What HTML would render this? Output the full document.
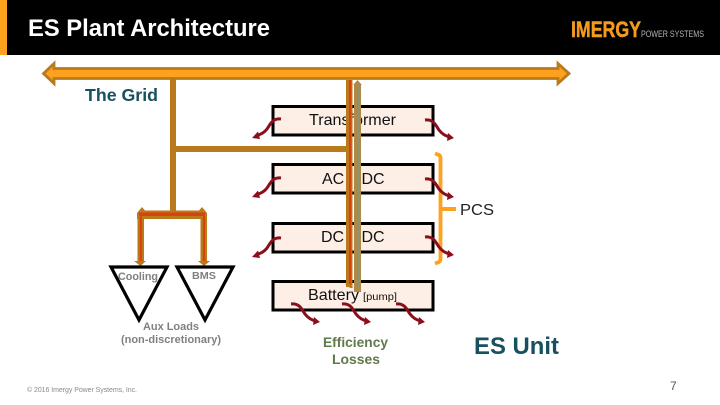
<!DOCTYPE html>
<html><head><meta charset="utf-8"><style>
html,body{margin:0;padding:0;background:#fff;width:720px;height:405px;overflow:hidden}
svg{display:block}
text{font-family:"Liberation Sans",sans-serif}
</style></head><body>
<svg width="720" height="405" viewBox="0 0 720 405" xmlns="http://www.w3.org/2000/svg">
<defs>
<g id="sl">
<path d="M0 0C-9-1-11 6-14 10C-17 14-20 15-25 17" fill="none" stroke="#8b0f1a" stroke-width="3"/>
<path d="M-29 19L-23 12.500L-21 20Z" fill="#8b0f1a"/>
</g>
<g id="sr">
<path d="M0 0C9-1 11 6 14 10C17 14 20 16 25 17" fill="none" stroke="#8b0f1a" stroke-width="3"/>
<path d="M29 18L23 13L22 21Z" fill="#8b0f1a"/>
</g>
</defs>
<rect width="720" height="55" fill="#000"/>
<rect width="7" height="55" fill="#fda11f"/>
<text x="28" y="36" font-size="23.700" font-weight="bold" fill="#fff" textLength="242" lengthAdjust="spacingAndGlyphs">ES Plant Architecture</text>
<text x="571" y="37" font-size="22.300" font-weight="bold" fill="#f49a1d" stroke="#f49a1d" stroke-width="0.500" textLength="70" lengthAdjust="spacingAndGlyphs">IMERGY</text>
<text x="641" y="37" font-size="9.500" fill="#b5b5b5" textLength="63" lengthAdjust="spacingAndGlyphs">POWER SYSTEMS</text>

<rect x="170" y="79" width="6" height="134" fill="#b97a1c"/>
<rect x="174" y="146" width="174" height="6" fill="#b97a1c"/>
<path d="M176 145L172 149L176 153Z" fill="#b97a1c"/>
<path d="M43.500 73.500L54 63.500V68.500H558V63.500L569 73.500L558 83.500V78.500H54V83.500Z" fill="#fda11f" stroke="#b97a1c" stroke-width="2.800"/>
<text x="85" y="101" font-size="17.800" font-weight="bold" fill="#17505f" textLength="73" lengthAdjust="spacingAndGlyphs">The Grid</text>

<g fill="#fdeee6" stroke="#000" stroke-width="3">
<rect x="273" y="106.500" width="160" height="28.500"/>
<rect x="273" y="164.500" width="160" height="28.500"/>
<rect x="273" y="223.500" width="160" height="28.500"/>
<rect x="273" y="281.500" width="160" height="28.500"/>
</g>
<g font-size="16" fill="#111">
<text x="309" y="125" textLength="87" lengthAdjust="spacingAndGlyphs">Transformer</text>
<text x="322" y="184">AC</text>
<text x="361.500" y="184">DC</text>
<text x="321" y="242">DC</text>
<text x="361.500" y="242">DC</text>
<text x="308" y="300" textLength="51" lengthAdjust="spacingAndGlyphs">Battery</text>
<text x="363" y="300" font-size="10.500" textLength="34" lengthAdjust="spacingAndGlyphs">[pump]</text>
</g>

<rect x="346" y="80" width="6.500" height="207" fill="#b97a1c"/>
<rect x="349" y="80" width="2.200" height="205" fill="#d9420f"/>
<path d="M345 284L350 288H352.500V284Z" fill="#b97a1c"/>
<path d="M353 85L357.500 80L362 85H361V292H354V85Z" fill="#b0884a"/>
<rect x="356.800" y="85" width="2" height="203" fill="#8b9468"/>

<rect x="170" y="205" width="6" height="9" fill="#b97a1c"/>
<path d="M137 213L142 207L145 210.500H199L202 207L207 213V219H137Z" fill="#b97a1c"/>
<rect x="139" y="212.500" width="66" height="3.500" fill="#d9420f"/>
<rect x="137.500" y="217" width="6.500" height="46" fill="#b97a1c"/>
<rect x="139.800" y="216" width="2" height="46" fill="#d9420f"/>
<rect x="200.500" y="217" width="6.500" height="46" fill="#b97a1c"/>
<rect x="203" y="216" width="2" height="46" fill="#d9420f"/>
<path d="M134 261H146L140.500 266Z" fill="#b97a1c"/>
<path d="M198 261H210L204 266Z" fill="#b97a1c"/>

<g fill="none" stroke="#000" stroke-width="3.200">
<path d="M111 267H167L139 320Z"/>
<path d="M177 267H233L205 320Z"/>
</g>
<g fill="#808080" font-weight="bold">
<text x="118" y="280" font-size="10.700" textLength="40" lengthAdjust="spacingAndGlyphs">Cooling</text>
<text x="192" y="279" font-size="10" textLength="24" lengthAdjust="spacingAndGlyphs">BMS</text>
<text x="143" y="330" font-size="11" textLength="56" lengthAdjust="spacingAndGlyphs">Aux Loads</text>
<text x="121" y="343" font-size="11" textLength="100" lengthAdjust="spacingAndGlyphs">(non-discretionary)</text>
</g>

<path d="M435 153.500L439 155Q440.500 156 440.500 158V259Q440.500 261 439 262L435 263.500" fill="none" stroke="#fda11f" stroke-width="3.800"/>
<rect x="441" y="207" width="15" height="4" fill="#fda11f"/>
<text x="460" y="215" font-size="16" fill="#222" textLength="34" lengthAdjust="spacingAndGlyphs">PCS</text>

<use href="#sl" x="281" y="119"/>
<use href="#sl" x="281" y="178"/>
<use href="#sl" x="281" y="238"/>
<use href="#sr" x="425" y="120"/>
<use href="#sr" x="425" y="179"/>
<use href="#sr" x="425" y="237"/>
<use href="#sr" x="291" y="304"/>
<use href="#sr" x="342" y="304"/>
<use href="#sr" x="396" y="304"/>

<text x="323" y="347" font-size="13.800" font-weight="bold" fill="#5f7a4a" textLength="65" lengthAdjust="spacingAndGlyphs">Efficiency</text>
<text x="332" y="364" font-size="13.800" font-weight="bold" fill="#5f7a4a" textLength="48" lengthAdjust="spacingAndGlyphs">Losses</text>
<text x="474" y="354" font-size="24" font-weight="bold" fill="#17505f" textLength="85" lengthAdjust="spacingAndGlyphs">ES Unit</text>
<text x="27" y="392" font-size="7" fill="#8a8a8a" textLength="110" lengthAdjust="spacing">© 2016 Imergy Power Systems, Inc.</text>
<text x="670" y="390" font-size="12" fill="#555">7</text>
</svg>
</body></html>
